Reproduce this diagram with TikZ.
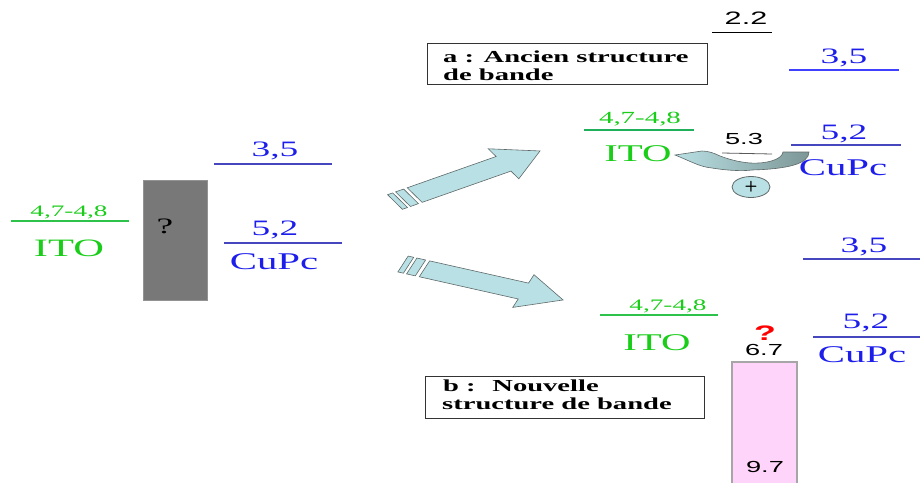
\documentclass[tikz,border=0pt]{standalone}
\usepackage{fontspec}
\setmainfont{Liberation Serif}[FakeStretch=1.7]
\newfontfamily\arialf{Liberation Sans}[FakeStretch=1.7]
\usetikzlibrary{shapes.geometric}
\definecolor{itogreen}{RGB}{25,205,25}
\definecolor{itoline}{RGB}{45,195,75}
\definecolor{cublue}{RGB}{30,30,235}
\definecolor{culine}{RGB}{70,70,190}
\definecolor{arrowfill}{RGB}{185,224,228}
\definecolor{arrowdark}{RGB}{125,150,150}
\definecolor{arrowdraw}{RGB}{95,105,105}
\definecolor{pinkfill}{RGB}{255,212,250}
\definecolor{graybox}{RGB}{120,120,120}
\newcommand\fs[1]{\fontsize{#1}{#1}\selectfont}
\tikzset{
  lbl/.style={anchor=base, inner sep=0pt, outer sep=0pt},
  greentxt/.style={lbl, text=itogreen},
  bluetxt/.style={lbl, text=cublue},
  numtxt/.style={lbl, text=black},
  gline/.style={draw=itoline, line width=1.5pt},
  bline/.style={draw=culine, line width=1.5pt},
  kline/.style={draw=black, line width=0.8pt},
  fatarrow/.style={fill=arrowfill, draw=arrowdraw, line width=0.6pt, line join=miter},
  legendbox/.style={draw=black!80, line width=1pt, inner sep=0pt, anchor=north west},
  legendtxt/.style={anchor=base west, inner sep=0pt, font=\bfseries\fs{16.8}}
}
\newcommand\fatarrowbody[1]{% #1 = length (unstretched frame)
  \path[fatarrow] (0,-8.5) -- (3.5,-8.5) -- (3.5,8.5) -- (0,8.5) -- cycle;
  \path[fatarrow] (5.5,-8.5) -- (11,-8.5) -- (11,8.5) -- (5.5,8.5) -- cycle;
  \path[fatarrow] (13.5,-8.5) -- ({#1-25},-8.5) -- ({#1-25},-17.5) -- (#1,0)
     -- ({#1-25},17.5) -- ({#1-25},8.5) -- (13.5,8.5) -- cycle;
}
\begin{document}
\begin{tikzpicture}[x=1pt,y=-1pt]
\useasboundingbox (0,0) rectangle (920,482);

% ---------- left part ----------
\node[greentxt, font=\fs{16}] (litov) at (69,216) {4,7-4,8};
\draw[gline] (11,221) -- (129,221);
\node[greentxt, font=\fs{25}] (lito) at (69,256) {ITO};
\fill[graybox, draw=gray!85] (143,180) rectangle (207,300);
\node[numtxt, font=\fs{22}] (lq) at (165,233) {?};
\node[bluetxt, font=\fs{22}] (l35) at (275,156) {3,5};
\draw[bline] (214,164) -- (332,164);
\node[bluetxt, font=\fs{22}] (l52) at (275,235) {5,2};
\draw[bline] (224,243) -- (342,243);
\node[bluetxt, font=\fs{24}] (lcu) at (274,269) {CuPc};

% ---------- arrows ----------
\begin{scope}[shift={(395,202)}, xscale=1.7, rotate=30.9]
  \fatarrowbody{99.4}
\end{scope}
\begin{scope}[shift={(403,264)}, xscale=1.7, rotate=-20.9]
  \fatarrowbody{100.8}
\end{scope}

% ---------- legends ----------
\node[legendbox, minimum width=280pt, minimum height=41pt] (boxa) at (427,43) {};
\node[legendtxt] (boxa1) at (443,62) {a : Ancien structure};
\node[legendtxt] (boxa2) at (443,80) {de bande};
\node[legendbox, minimum width=279pt, minimum height=42pt] (boxb) at (425,376) {};
\node[legendtxt] (boxb1) at (443,391) {b :~ Nouvelle};
\node[legendtxt] (boxb2) at (442,409) {structure de bande};

% ---------- part a ----------
\node[numtxt, font=\arialf\fs{18}] (a22) at (746,24) {2.2};
\draw[kline] (712,32) -- (772,32);
\node[bluetxt, font=\fs{22}] (a35) at (844,63) {3,5};
\draw[bline, draw=blue!75] (789,70) -- (899,70);
\node[greentxt, font=\fs{17}] (aitov) at (640,123) {4,7-4,8};
\draw[gline, draw=itoline!70!teal] (584,130) -- (694,130);
\node[greentxt, font=\fs{24}] (aito) at (638,161) {ITO};
\node[numtxt, font=\arialf\fs{16}] (a53) at (744,144) {5.3};
\shadedraw[left color=arrowfill, right color=arrowdark, draw=arrowdraw, line width=0.6pt]
  (783,152) .. controls (782,160) and (765,164) .. (750,163)
  .. controls (738,162) and (728,159) .. (720,156)
  .. controls (714,153) and (708,151) .. (702,151)
  -- (675,155)
  .. controls (690,161) and (700,167) .. (712,168)
  .. controls (730,171) and (745,171) .. (752,170)
  .. controls (787,169) and (809,164) .. (809,152) -- cycle;
\draw[draw=gray!70!black, line width=0.8pt] (722,153) -- (772,154);
\node[bluetxt, font=\fs{22}] (a52) at (844,139) {5,2};
\draw[bline] (791,145) -- (901,145);
\node[bluetxt, font=\fs{24}] (acu) at (843,175) {CuPc};
\node[ellipse, fill=arrowfill, draw=arrowdraw, line width=0.8pt, minimum width=38pt,
  minimum height=21pt, inner sep=0pt, font=\sffamily\bfseries\fs{15}] (plus) at (751,187) {+};

% ---------- part b ----------
\node[bluetxt, font=\fs{22}] (b35) at (864,252) {3,5};
\draw[bline] (803,259) -- (920,259);
\node[greentxt, font=\fs{16}] (bitov) at (668,310) {4,7-4,8};
\draw[gline] (600,315) -- (718,315);
\node[greentxt, font=\fs{24}] (bito) at (657,350) {ITO};
\fill[pinkfill, draw=gray!70, line width=1.2pt] (732,362) rectangle (797,484);
\node[lbl, text=red, font=\arialf\bfseries\fs{21}] (bq) at (765,340) {?};
\node[numtxt, font=\arialf\fs{16}] (b67) at (764,355) {6.7};
\node[numtxt, font=\arialf\fs{16}] (b97) at (765,472) {9.7};
\node[bluetxt, font=\fs{22}] (b52) at (866,328) {5,2};
\draw[bline] (813,337) -- (920,337);
\node[bluetxt, font=\fs{24}] (bcu) at (862,362) {CuPc};
\end{tikzpicture}
\end{document}
